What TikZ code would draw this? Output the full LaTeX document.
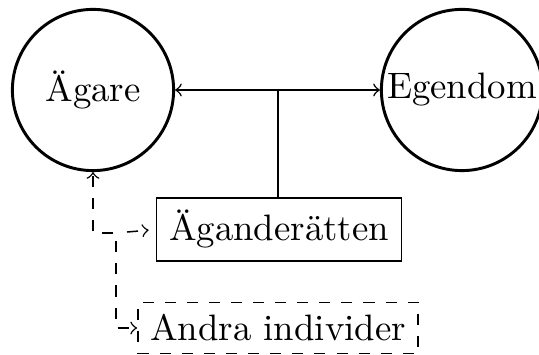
\documentclass[tikz,border=0pt]{standalone}
\usetikzlibrary{arrows}
\begin{document}
\begin{tikzpicture}[x=0.2717pt,y=-0.2717pt,
  party/.style={circle,draw,thick,inner sep=0pt,minimum size=43.8pt},
  rightbox/.style={rectangle,draw},
  otherbox/.style={rectangle,draw,dashed},
  link/.style={->,>=to},
  weaklink/.style={->,>=to,dashed}]
\useasboundingbox (0,0) rectangle (539,355);
% main parties
\node[party] (owner) at (93,90) {Ägare};
\node[party] (property) at (462,90) {Egendom};
% the right itself and the others it concerns
\node[rightbox] (right) at (279,229.5) {Äganderätten};
\node[otherbox] (others) at (278,328) {Andra individer};
% owner -- property relation
\draw[link,<->] (owner) -- (property);
\coordinate (tee) at (278,90);
\draw (tee) -- (tee |- right.north);
% dashed relations: owner <-> others, branching off to the right
\coordinate (split) at (116,233);
\draw[weaklink,<->,dash phase=5.4pt] (owner.south) |- (split) |- (others.west);
\draw[weaklink,dash phase=3pt,shorten >=2pt] (split) -- (right.west);
\end{tikzpicture}
\end{document}
